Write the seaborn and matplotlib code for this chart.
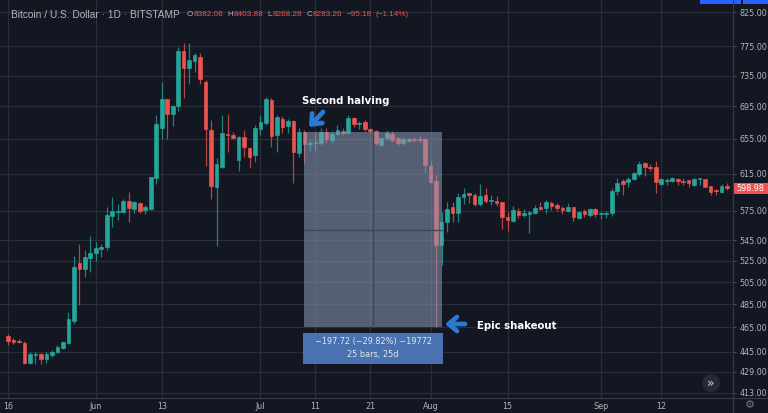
import numpy as np
import pandas as pd
import matplotlib
matplotlib.use("Agg")
import matplotlib.pyplot as plt
import seaborn as sns
from matplotlib.patches import Rectangle, Circle
from matplotlib.lines import Line2D
from matplotlib.ticker import FixedLocator, NullLocator, FixedFormatter
from matplotlib.transforms import IdentityTransform, blended_transform_factory

# ---------------- data (daily candles, 16 May - 24 Sep) ----------------
dates = pd.date_range("2016-05-16", periods=132, freq="D")

opens = [457.8, 454.2, 453.6, 452.2, 436.0, 442.4, 443.0, 438.8, 442.2, 444.6,
         447.9, 451.7, 470.4, 522.5, 517.3, 527.2, 532.0, 536.2, 537.9, 569.4,
         573.5, 573.5, 584.9, 576.6, 583.1, 575.6, 576.3, 610.3, 668.5, 704.3,
         685.3, 695.4, 768.1, 745.5, 754.1, 759.9, 726.8, 665.7, 600.4, 622.5,
         660.9, 660.0, 630.4, 657.0, 644.7, 635.8, 666.6, 674.7, 703.0, 659.7,
         679.2, 670.6, 676.6, 638.8, 663.0, 649.0, 650.2, 650.2, 663.6, 653.7,
         660.9, 664.9, 662.4, 680.0, 672.6, 675.1, 666.9, 664.1, 647.4, 655.8,
         660.9, 655.8, 650.5, 655.2, 655.2, 655.2, 654.5, 623.6, 607.0, 540.1,
         563.5, 578.6, 572.7, 589.7, 593.4, 591.5, 581.9, 591.5, 585.4, 585.4,
         583.9, 568.7, 564.5, 574.9, 570.7, 571.6, 572.7, 578.3, 577.3, 583.5,
         580.8, 577.9, 574.5, 578.3, 566.9, 574.9, 570.4, 576.3, 571.2, 571.5,
         572.2, 596.1, 606.4, 605.2, 608.6, 614.1, 626.7, 622.5, 622.2, 603.6,
         606.7, 607.0, 609.3, 607.0, 607.8, 602.3, 608.6, 609.3, 601.1, 596.9,
         594.7, 601.1]
highs = [459.4, 455.8, 455.5, 453.8, 444.4, 444.8, 444.0, 444.4, 446.2, 450.3,
         453.6, 478.4, 529.4, 540.8, 535.2, 549.0, 543.4, 540.8, 579.0, 589.7,
         581.9, 586.9, 594.7, 585.3, 584.3, 580.8, 611.5, 684.1, 726.8, 704.3,
         696.7, 773.7, 779.8, 779.8, 766.2, 765.3, 729.1, 677.9, 632.7, 684.1,
         685.3, 663.8, 658.5, 665.7, 645.8, 671.8, 684.1, 707.3, 705.2, 684.1,
         682.8, 678.7, 677.4, 667.7, 665.7, 653.7, 661.7, 667.7, 667.7, 664.1,
         671.8, 667.7, 684.1, 682.0, 677.0, 677.4, 667.7, 665.7, 657.6, 665.7,
         664.1, 657.6, 656.8, 657.6, 657.6, 658.5, 655.7, 630.4, 613.4, 573.8,
         584.3, 584.3, 593.6, 598.7, 594.0, 593.4, 603.4, 598.7, 591.5, 590.4,
         584.3, 573.8, 579.7, 577.3, 576.6, 574.9, 580.8, 583.7, 586.1, 585.3,
         583.2, 579.7, 582.6, 579.0, 574.5, 576.3, 577.3, 577.3, 573.8, 574.5,
         598.7, 609.7, 608.6, 610.8, 616.8, 628.9, 627.9, 625.8, 629.3, 610.4,
         609.7, 611.5, 609.7, 609.7, 607.8, 609.7, 610.4, 609.3, 601.1, 597.7,
         603.4, 604.2]
lows = [450.3, 451.1, 451.6, 435.0, 434.8, 435.0, 435.3, 436.0, 440.8, 443.5,
        446.8, 451.1, 467.8, 484.3, 509.3, 514.5, 524.9, 528.8, 535.2, 558.4,
        565.2, 572.2, 562.9, 572.2, 572.2, 571.5, 575.6, 603.1, 654.9, 654.9,
        670.9, 689.5, 706.0, 723.9, 740.1, 723.9, 623.6, 587.5, 539.5, 620.9,
        639.3, 655.2, 618.2, 634.2, 620.9, 628.5, 659.7, 671.8, 645.8, 640.0,
        661.7, 662.4, 604.8, 634.2, 626.7, 640.4, 640.4, 647.8, 650.5, 650.5,
        659.7, 659.7, 661.7, 669.6, 666.6, 664.1, 661.7, 647.8, 646.6, 653.7,
        651.7, 646.6, 647.8, 651.7, 651.7, 651.3, 615.3, 604.3, 465.28, 520.8,
        553.0, 563.5, 562.9, 581.9, 582.6, 579.7, 579.7, 583.2, 580.8, 579.7,
        555.7, 554.3, 563.5, 566.9, 568.7, 552.3, 571.5, 575.6, 572.7, 575.6,
        574.9, 571.5, 573.5, 564.5, 566.5, 568.7, 568.7, 568.7, 566.5, 566.9,
        569.4, 591.5, 591.9, 600.4, 607.8, 612.3, 612.3, 618.2, 594.0, 602.3,
        602.3, 605.9, 602.3, 602.3, 600.4, 601.1, 602.3, 600.4, 591.5, 591.5,
        593.4, 596.9]
closes = [453.8, 452.5, 452.5, 436.0, 442.8, 443.2, 438.8, 443.2, 444.6, 448.9,
          452.5, 472.3, 519.2, 517.3, 528.2, 532.6, 536.9, 538.5, 570.4, 574.5,
          574.9, 584.9, 577.9, 583.6, 574.5, 578.6, 610.8, 672.6, 704.3, 685.3,
          695.4, 768.1, 745.5, 756.1, 763.0, 730.4, 667.3, 601.5, 625.5, 662.4,
          659.3, 656.7, 657.0, 645.8, 634.2, 668.1, 675.1, 703.9, 658.5, 681.3,
          669.8, 676.6, 639.3, 662.9, 648.6, 650.5, 651.0, 663.6, 654.5, 660.9,
          665.7, 662.4, 680.0, 672.6, 673.8, 666.6, 664.1, 650.2, 656.1, 662.4,
          653.7, 650.5, 654.5, 652.9, 653.3, 653.7, 624.7, 606.1, 540.1, 563.5,
          576.3, 572.7, 589.7, 592.6, 591.5, 581.9, 590.4, 585.4, 586.1, 582.6,
          568.7, 565.2, 575.6, 570.4, 572.2, 573.2, 577.6, 576.6, 583.7, 580.3,
          577.3, 575.6, 578.6, 568.7, 573.2, 571.5, 576.3, 571.5, 572.2, 572.7,
          595.6, 604.3, 603.4, 609.3, 615.3, 626.3, 622.2, 620.8, 605.4, 609.0,
          607.8, 609.7, 607.0, 605.9, 604.1, 609.3, 609.7, 600.4, 594.9, 595.4,
          601.1, 598.98]

tick_dates = ["2016-05-16", "2016-06-01", "2016-06-13", "2016-07-01", "2016-07-11",
              "2016-07-21", "2016-08-01", "2016-08-15", "2016-09-01", "2016-09-12"]
tick_labels = ["16", "Jun", "13", "Jul", "11", "21", "Aug", "15", "Sep", "12"]
price_ticks = [825, 775, 735, 695, 655, 615, 575, 545, 525, 505, 485, 465, 445, 429, 413]

halving_date = "2016-07-09"
shakeout_date = "2016-08-03"

header_title = "Bitcoin / U.S. Dollar \u00b7 1D \u00b7 BITSTAMP"
header_groups = [[("O", "gray"), ("8382.08", "red")],
                 [("H", "gray"), ("8403.88", "red")],
                 [("L", "gray"), ("8268.28", "red")],
                 [("C", "gray"), ("8283.26", "red")],
                 [("\u221295.18", "red")],
                 [("(\u22121.14%)", "red")]]

# ---------------- style ----------------
BG = "#131722"
GRID = "#2a2e39"
UP = "#26a69a"
DOWN = "#ef5350"
TXT = "#b2b5be"
BLUE = "#2a79d2"
LINE = "#363a45"

sns.set_theme(style="dark", rc={"axes.facecolor": BG, "figure.facecolor": BG,
                                "savefig.facecolor": BG})
plt.rcParams["font.family"] = ["DejaVu Sans"]

df = pd.DataFrame({"date": dates, "open": opens, "high": highs, "low": lows, "close": closes})
df["i"] = np.arange(len(df))
df["up"] = df["close"] >= df["open"]
df["color"] = np.where(df["up"], UP, DOWN)
df["bot"] = df[["open", "close"]].min(axis=1)
df["h"] = (df["open"] - df["close"]).abs()

W, H = 768, 413
fig = plt.figure(figsize=(W / 100, H / 100), dpi=100)
ax = fig.add_axes([0, 15 / H, 733 / W, 398 / H])
ax.set_facecolor(BG)
ax.set_yscale("log")
ax.set_ylim(409.0, 843.2)
ax.set_xlim(-1.457, 132.08)

# grid
date_pos = {d: k for k, d in enumerate(df["date"].dt.strftime("%Y-%m-%d"))}
xt = [date_pos[d] for d in tick_dates]
for p in price_ticks:
    ax.axhline(p, color=GRID, lw=0.9, zorder=0)
for x in xt:
    ax.axvline(x, color=GRID, lw=0.9, zorder=0)

# candles
ax.vlines(df["i"], df["low"], df["high"], colors=df["color"], lw=0.9, alpha=0.75, zorder=2)
ax.bar(df["i"], df["h"], bottom=df["bot"], width=0.67, color=df["color"],
       edgecolor=df["color"], linewidth=0.45, zorder=3)

# measurement box
i0 = date_pos[halving_date]
i1 = date_pos[shakeout_date]
top = opens[i0]
bottom = lows[date_pos["2016-08-02"]]
ax.add_patch(Rectangle((i0, bottom), i1 - i0, top - bottom, facecolor="#8a9bb8",
                       alpha=0.55, edgecolor="none", zorder=4))
mid_y = np.sqrt(top * bottom)
ax.plot([(i0 + i1) / 2] * 2, [bottom, top], color="#3c4558", lw=0.9, zorder=5)
ax.plot([i0, i1], [mid_y, mid_y], color="#3c4558", lw=0.9, zorder=5)

diff = bottom - top
pct = diff / top * 100
nbars = i1 - i0
fig.add_artist(Rectangle((303 / W, 1 - 364 / H), 140 / W, 31 / H,
                         transform=fig.transFigure, facecolor="#4a71b0", edgecolor="none"))
fig.text(373 / W, 1 - 341.5 / H,
         f"\u2212{abs(diff):.2f} (\u2212{abs(pct):.2f}%) \u2212{abs(round(diff * 100))}",
         color="#e4e8f0", fontsize=5.9, ha="center", va="center")
fig.text(373 / W, 1 - 355 / H, f"{nbars} bars, {nbars}d",
         color="#e4e8f0", fontsize=5.9, ha="center", va="center")

# annotations
fig.text(302 / W, 1 - 101.5 / H, "Second halving", color="white", fontsize=7.3,
         fontweight="bold", ha="left", va="center")
fig.text(477 / W, 1 - 326 / H, "Epic shakeout", color="white", fontsize=7.3,
         fontweight="bold", ha="left", va="center")
arrow = dict(arrowstyle="->,head_length=0.5,head_width=0.42", color=BLUE, lw=3.4,
             shrinkA=0, shrinkB=0, capstyle="round", joinstyle="round")
ax.annotate("", xy=(309, H - 127), xytext=(323, H - 112), xycoords="figure pixels",
            textcoords="figure pixels", arrowprops=arrow, zorder=6)
ax.annotate("", xy=(445, H - 324), xytext=(465, H - 324), xycoords="figure pixels",
            textcoords="figure pixels", arrowprops=arrow, zorder=6)

# axes / ticks
for s in ax.spines.values():
    s.set_visible(False)
ax.yaxis.set_major_locator(FixedLocator(price_ticks))
ax.yaxis.set_minor_locator(NullLocator())
ax.yaxis.set_major_formatter(FixedFormatter([f"{p:.2f}" for p in price_ticks]))
ax.yaxis.tick_right()
ax.tick_params(axis="y", which="major", right=True, left=False, labelright=True,
               labelleft=False, length=2.5, width=0.7, color="#50535e", pad=2,
               labelsize=5.8, labelcolor=TXT)
ax.tick_params(axis="y", which="minor", right=False, left=False)
ax.set_xticks(xt)
ax.set_xticklabels(tick_labels)
ax.tick_params(axis="x", bottom=True, length=0, pad=3, labelsize=5.8, labelcolor=TXT)
ax.set_xlabel("")
ax.set_ylabel("")

# frame lines
fig.add_artist(Line2D([733 / W, 733 / W], [0, 1], color=LINE, lw=0.9, transform=fig.transFigure))
fig.add_artist(Line2D([0, 1], [15 / H, 15 / H], color=LINE, lw=0.9, transform=fig.transFigure))

# last price label
bt = blended_transform_factory(fig.transFigure, ax.transData)
last = closes[-1]
ax.add_patch(Rectangle((733 / W, last * np.exp(-5.6 / 550)), 35 / W,
                       last * (np.exp(5.6 / 550) - np.exp(-5.6 / 550)),
                       transform=bt, facecolor=DOWN, edgecolor="none", clip_on=False, zorder=7))
ax.text(736 / W, last, f"{last:.2f}", transform=bt, color="white", fontsize=5.8,
        ha="left", va="center", clip_on=False, zorder=8)

# header
renderer = fig.canvas.get_renderer()
fig.text(11 / W, 1 - 15 / H, header_title, color=TXT, fontsize=7.3,
         family="Liberation Sans", ha="left", va="center")
xcur = 187.0
cmap = {"gray": TXT, "red": DOWN}
for grp in header_groups:
    for s, c in grp:
        t = fig.text(xcur / W, 1 - 15 / H, s, color=cmap[c], fontsize=5.9,
                     family="Liberation Sans", ha="left", va="center")
        bb = t.get_window_extent(renderer)
        xcur = bb.x1 + 0.6
    xcur += 3.4

# toolbar bits
fig.add_artist(Rectangle((700 / W, 1 - 4 / H), 41 / W, 4 / H, transform=fig.transFigure,
                         facecolor="#2962ff", edgecolor="none"))
fig.add_artist(Rectangle((743 / W, 1 - 4 / H), 25 / W, 4 / H, transform=fig.transFigure,
                         facecolor="#2962ff", edgecolor="none"))
fig.add_artist(Circle((711, H - 383), 9, transform=IdentityTransform(),
                      facecolor="#262a35", edgecolor="none"))
fig.text(711 / W, 1 - 383.5 / H, "\u00bb", color="#d1d4dc", fontsize=9,
         ha="center", va="center")
fig.text(750 / W, 1 - 405.5 / H, "\u2699", color="#787b86", fontsize=8,
         ha="center", va="center")

fig.savefig("out.png", dpi=100, facecolor=BG)
